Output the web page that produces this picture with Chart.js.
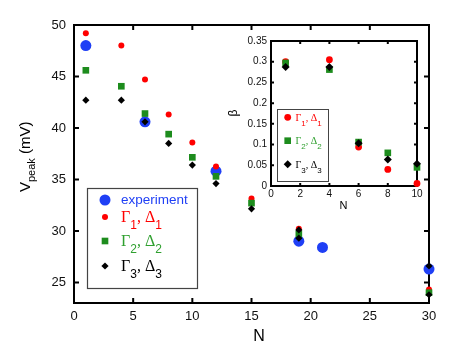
<!DOCTYPE html>
<html>
<head>
<meta charset="utf-8">
<script src="https://cdn.jsdelivr.net/npm/chart.js@4"></script>
<style>
  html, body { margin: 0; padding: 0; background: #fff; }
  #wrap { position: relative; width: 471px; height: 364px; }
  #wrap canvas { position: absolute; left: 0; top: 0; }
</style>
</head>
<body>
<div id="wrap">
  <canvas id="mainChart" width="471" height="364"></canvas>
  <canvas id="insetChart" width="471" height="364"></canvas>
</div>
<script>
// ===== main panel data =====
const nTicks = [0, 5, 10, 15, 20, 25, 30];
const vTicks = [25, 30, 35, 40, 45, 50];
const expN = [1, 6, 12, 19, 21, 30];
const expV = [48.0, 40.6, 35.8, 29.0, 28.4, 26.3];
const modelN = [1, 4, 6, 8, 10, 12, 15, 19, 30];
const gamma1V = [49.2, 48.0, 44.7, 41.3, 38.6, 36.25, 33.15, 30.2, 24.3];
const gamma2V = [45.6, 44.05, 41.4, 39.4, 37.15, 35.3, 32.7, 29.7, 24.0];
const gamma3N = [1, 4, 6, 8, 10, 12, 15, 19, 19, 30, 30];
const gamma3V = [42.7, 42.7, 40.6, 38.5, 36.4, 34.6, 32.15, 30.1, 29.3, 26.6, 23.8];

// ===== inset data =====
const insetNTicks = [0, 2, 4, 6, 8, 10];
const betaTicks = [0, 0.05, 0.1, 0.15, 0.2, 0.25, 0.3, 0.35];
const insetN = [1, 4, 6, 8, 10];
const beta1 = [0.300, 0.305, 0.094, 0.040, 0.006];
const beta2 = [0.297, 0.281, 0.106, 0.080, 0.045];
const beta3 = [0.287, 0.287, 0.103, 0.064, 0.054];

const BLUE = '#1f3ff5';
const RED = '#ff0000';
const GREEN = '#1d8c1d';
const GREEN_TXT = '#30a030';
const SANS = "'Liberation Sans', Arial, sans-serif";
const SERIF = "'Liberation Serif', 'Times New Roman', serif";

function pts(xs, ys) {
  return xs.map((x, i) => ({ x: x, y: ys[i] }));
}

// marker drawn in the legends
function marker(ctx, style, x, y, r, color) {
  ctx.fillStyle = color;
  ctx.beginPath();
  if (style === 'circle') {
    ctx.arc(x, y, r, 0, 2 * Math.PI);
  } else if (style === 'rect') {
    const s = r * Math.SQRT1_2;
    ctx.rect(x - s, y - s, 2 * s, 2 * s);
  } else {
    ctx.moveTo(x - r, y); ctx.lineTo(x, y - r); ctx.lineTo(x + r, y); ctx.lineTo(x, y + r);
    ctx.closePath();
  }
  ctx.fill();
}

// text with '_x' subscripts
function drawRich(ctx, text, x, y, mainFont, subFont, shift) {
  let cx = x;
  for (let i = 0; i < text.length; i++) {
    let ch = text[i], sub = false;
    if (ch === '_') { ch = text[++i]; sub = true; }
    ctx.font = sub ? subFont : mainFont;
    ctx.fillText(ch, cx, sub ? y + shift : y);
    cx += ctx.measureText(ch).width;
  }
}

// closed frame with inward ticks on all sides
function framePlugin(tickLen, lineW) {
  return {
    id: 'frame',
    beforeDatasetsDraw(chart) {
      const ctx = chart.ctx, a = chart.chartArea;
      const xs = chart.scales.x, ys = chart.scales.y;
      ctx.save();
      ctx.strokeStyle = '#000';
      ctx.lineWidth = lineW;
      ctx.strokeRect(a.left, a.top, a.right - a.left, a.bottom - a.top);
      ctx.beginPath();
      xs.ticks.forEach(t => {
        const px = xs.getPixelForValue(t.value);
        ctx.moveTo(px, a.bottom); ctx.lineTo(px, a.bottom - tickLen);
        ctx.moveTo(px, a.top); ctx.lineTo(px, a.top + tickLen);
      });
      ys.ticks.forEach(t => {
        const py = ys.getPixelForValue(t.value);
        ctx.moveTo(a.left, py); ctx.lineTo(a.left + tickLen, py);
        ctx.moveTo(a.right, py); ctx.lineTo(a.right - tickLen, py);
      });
      ctx.stroke();
      ctx.restore();
    }
  };
}

// ===== main chart =====
const mainDecor = {
  id: 'mainDecor',
  afterDraw(chart) {
    const ctx = chart.ctx;
    ctx.save();
    // axis titles
    ctx.fillStyle = '#000';
    ctx.textBaseline = 'middle';
    ctx.textAlign = 'center';
    ctx.font = '16px ' + SANS;
    ctx.fillText('N', 259, 337);
    ctx.translate(30, 192);
    ctx.rotate(-Math.PI / 2);
    ctx.textAlign = 'left';
    ctx.textBaseline = 'alphabetic';
    ctx.font = '15px ' + SANS;
    ctx.fillText('V', 0, 0);
    let w = ctx.measureText('V').width;
    ctx.font = '11px ' + SANS;
    ctx.fillText('peak', w, 5);
    w += ctx.measureText('peak').width;
    ctx.font = '15px ' + SANS;
    ctx.fillText(' (mV)', w, 0);
    ctx.restore();

    // legend
    ctx.save();
    ctx.fillStyle = '#fff';
    ctx.fillRect(87, 188, 110, 100);
    ctx.strokeStyle = '#444';
    ctx.lineWidth = 1.2;
    ctx.strokeRect(87.5, 188.5, 110, 100);
    const rows = [200, 217, 241, 266];
    chart.data.datasets.forEach((ds, i) => {
      const y = rows[i];
      marker(ctx, ds.pointStyle, 105, y, ds.legendR, ds.pointBackgroundColor);
      ctx.fillStyle = ds.textColor;
      if (i === 0) {
        ctx.font = '13.5px ' + SANS;
        ctx.textBaseline = 'middle';
        ctx.fillText(ds.label, 121, y);
      } else {
        ctx.textBaseline = 'alphabetic';
        drawRich(ctx, ds.label, 121, y + 5, '16px ' + SERIF, '12px ' + SANS, 7);
      }
    });
    ctx.restore();
  }
};

new Chart(document.getElementById('mainChart'), {
  type: 'scatter',
  data: {
    datasets: [
      { label: 'experiment', data: pts(expN, expV), pointStyle: 'circle', pointRadius: 5.5,
        pointBackgroundColor: BLUE, pointBorderWidth: 0, order: 3, clip: false, legendR: 5.5, textColor: BLUE },
      { label: 'Γ_1, Δ_1', data: pts(modelN, gamma1V), pointStyle: 'circle', pointRadius: 3,
        pointBackgroundColor: RED, pointBorderWidth: 0, order: 2, clip: false, legendR: 3, textColor: RED },
      { label: 'Γ_2, Δ_2', data: pts(modelN, gamma2V), pointStyle: 'rect', pointRadius: 4.7,
        pointBackgroundColor: GREEN, pointBorderWidth: 0, order: 1, clip: false, legendR: 4.7, textColor: GREEN_TXT },
      { label: 'Γ_3, Δ_3', data: pts(gamma3N, gamma3V), pointStyle: 'rectRot', pointRadius: 3.6,
        pointBackgroundColor: '#000', pointBorderWidth: 0, order: 0, clip: false, legendR: 3.6, textColor: '#000' }
    ]
  },
  options: {
    responsive: false,
    animation: false,
    events: [],
    layout: { padding: { left: 0, top: 25, right: 42, bottom: 0 } },
    plugins: { legend: { display: false }, tooltip: { enabled: false } },
    scales: {
      x: {
        type: 'linear', min: 0, max: 30,
        afterBuildTicks: s => { s.ticks = nTicks.map(v => ({ value: v })); },
        afterFit: s => { s.height = 61; },
        grid: { display: false, drawTicks: false },
        border: { display: false },
        ticks: { padding: 6, color: '#111', font: { size: 13, family: SANS }, callback: v => String(v) }
      },
      y: {
        type: 'linear', min: 23, max: 50,
        afterBuildTicks: s => { s.ticks = vTicks.map(v => ({ value: v })); },
        afterFit: s => { s.width = 74; },
        grid: { display: false, drawTicks: false },
        border: { display: false },
        ticks: { padding: 8, color: '#111', font: { size: 13, family: SANS }, callback: v => String(v) }
      }
    }
  },
  plugins: [framePlugin(5, 2), mainDecor]
});

// ===== inset chart =====
const insetDecor = {
  id: 'insetDecor',
  afterDraw(chart) {
    const ctx = chart.ctx;
    ctx.save();
    ctx.fillStyle = '#000';
    ctx.textAlign = 'center';
    ctx.textBaseline = 'middle';
    ctx.font = '11px ' + SANS;
    ctx.fillText('N', 343.5, 205.5);
    ctx.translate(234, 113);
    ctx.rotate(-Math.PI / 2);
    ctx.font = '12px ' + SANS;
    ctx.fillText('β', 0, 0);
    ctx.restore();

    ctx.save();
    ctx.fillStyle = '#fff';
    ctx.fillRect(277, 109, 51, 72);
    ctx.strokeStyle = '#444';
    ctx.lineWidth = 1;
    ctx.strokeRect(277.5, 109.5, 51, 72);
    const rows = [117.3, 140.7, 164.3];
    chart.data.datasets.forEach((ds, i) => {
      const y = rows[i];
      marker(ctx, ds.pointStyle, 287.7, y, ds.pointRadius, ds.pointBackgroundColor);
      ctx.fillStyle = ds.textColor;
      ctx.textBaseline = 'alphabetic';
      drawRich(ctx, ds.label, 295.5, y + 3.5, '10px ' + SERIF, '8px ' + SANS, 5);
    });
    ctx.restore();
  }
};

new Chart(document.getElementById('insetChart'), {
  type: 'scatter',
  data: {
    datasets: [
      { label: 'Γ_1, Δ_1', data: pts(insetN, beta1), pointStyle: 'circle', pointRadius: 3.4,
        pointBackgroundColor: RED, pointBorderWidth: 0, order: 2, clip: false, textColor: RED },
      { label: 'Γ_2, Δ_2', data: pts(insetN, beta2), pointStyle: 'rect', pointRadius: 4.7,
        pointBackgroundColor: GREEN, pointBorderWidth: 0, order: 1, clip: false, textColor: GREEN_TXT },
      { label: 'Γ_3, Δ_3', data: pts(insetN, beta3), pointStyle: 'rectRot', pointRadius: 4,
        pointBackgroundColor: '#000', pointBorderWidth: 0, order: 0, clip: false, textColor: '#000' }
    ]
  },
  options: {
    responsive: false,
    animation: false,
    events: [],
    layout: { padding: { left: 0, top: 41, right: 54, bottom: 153 } },
    plugins: { legend: { display: false }, tooltip: { enabled: false } },
    scales: {
      x: {
        type: 'linear', min: 0, max: 10,
        afterBuildTicks: s => { s.ticks = insetNTicks.map(v => ({ value: v })); },
        afterFit: s => { s.height = 25; },
        grid: { display: false, drawTicks: false },
        border: { display: false },
        ticks: { padding: 2, color: '#111', font: { size: 10, family: SANS }, callback: v => String(v) }
      },
      y: {
        type: 'linear', min: 0, max: 0.35,
        afterBuildTicks: s => { s.ticks = betaTicks.map(v => ({ value: v })); },
        afterFit: s => { s.width = 271; },
        grid: { display: false, drawTicks: false },
        border: { display: false },
        ticks: { padding: 4, color: '#111', font: { size: 10, family: SANS }, callback: v => String(v) }
      }
    }
  },
  plugins: [framePlugin(3, 2), insetDecor]
});
</script>
</body>
</html>
